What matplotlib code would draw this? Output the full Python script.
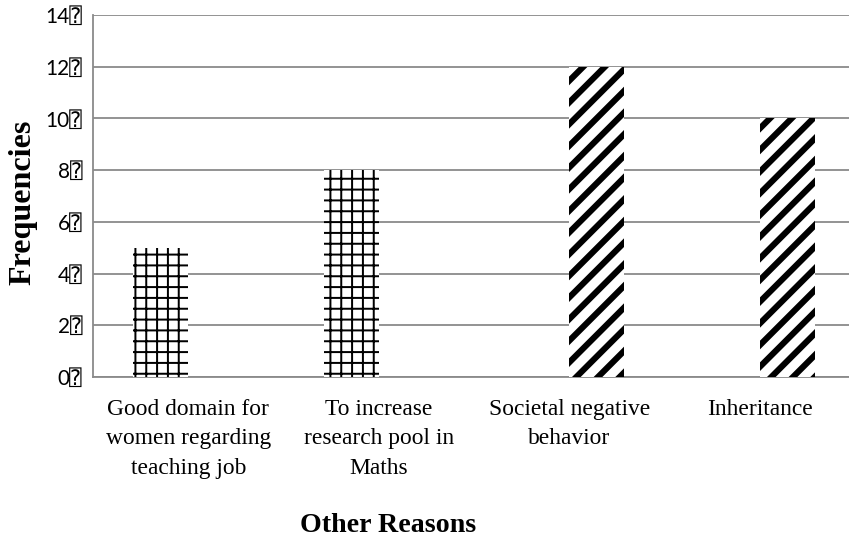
import matplotlib
matplotlib.use("Agg")
import matplotlib.pyplot as plt

# Reasons and their frequencies
categories = [
    "Good domain for\nwomen regarding\nteaching job",
    "To increase\nresearch pool in\nMaths",
    "Societal negative\nbehavior",
    "Inheritance",
]
grid_values = [5, 8, 0, 0]       # cross-hatched series
stripe_values = [0, 0, 12, 10]   # diagonal-striped series
y_ticks = [0, 2, 4, 6, 8, 10, 12, 14]
y_tick_labels = [f"{v}\u2370" for v in y_ticks]

DPI = 130
fig = plt.figure(figsize=(849 / DPI, 540 / DPI), dpi=DPI)
ax = fig.add_axes([93 / 849, 1 - 377 / 540, 762 / 849, (377 - 15) / 540])

x = list(range(len(categories)))
width = 0.29

with plt.rc_context({"hatch.linewidth": 1.1}):
    b1 = ax.bar([i - width / 2 for i in x], grid_values, width,
                color="white", edgecolor="black", linewidth=0,
                hatch="++", zorder=3)
with plt.rc_context({"hatch.linewidth": 3.4}):
    b2 = ax.bar([i + width / 2 for i in x], stripe_values, width,
                color="white", edgecolor="black", linewidth=0,
                hatch="//", zorder=3)

for bars, lw in ((b1, 1.1), (b2, 3.4)):
    for p in bars:
        if hasattr(p, "set_hatch_linewidth"):
            p.set_hatch_linewidth(lw)

ax.set_xlim(-0.5, 3.5)
ax.set_ylim(0, 14)
ax.set_yticks(y_ticks)
ax.set_yticklabels(y_tick_labels, family=["Lato", "DejaVu Sans", "DejaVu Sans Mono"],
                   fontsize=11.5)
ax.set_xticks(x)
ax.set_xticklabels(categories, family="Liberation Serif", fontsize=13,
                   linespacing=1.55)
ax.tick_params(axis="y", length=0, pad=6)
ax.tick_params(axis="x", length=0, pad=12)

ax.grid(axis="y", color="#8a8a8a", linewidth=1.0, zorder=0)
ax.set_axisbelow(True)
for side in ("top", "right"):
    ax.spines[side].set_visible(False)
for side in ("left", "bottom"):
    ax.spines[side].set_color("#8a8a8a")
    ax.spines[side].set_linewidth(1.0)

ax.set_ylabel("Frequencies", family="Liberation Serif", fontweight="bold",
              fontsize=17.8, va="center")
ax.yaxis.set_label_coords(23 / 849, 1 - 202 / 540, transform=fig.transFigure)
ax.set_xlabel("Other Reasons", family="Liberation Serif", fontweight="bold",
              fontsize=15.5, va="center")
ax.xaxis.set_label_coords(388 / 849, 1 - 525 / 540, transform=fig.transFigure)

fig.savefig("out.png", dpi=DPI)
